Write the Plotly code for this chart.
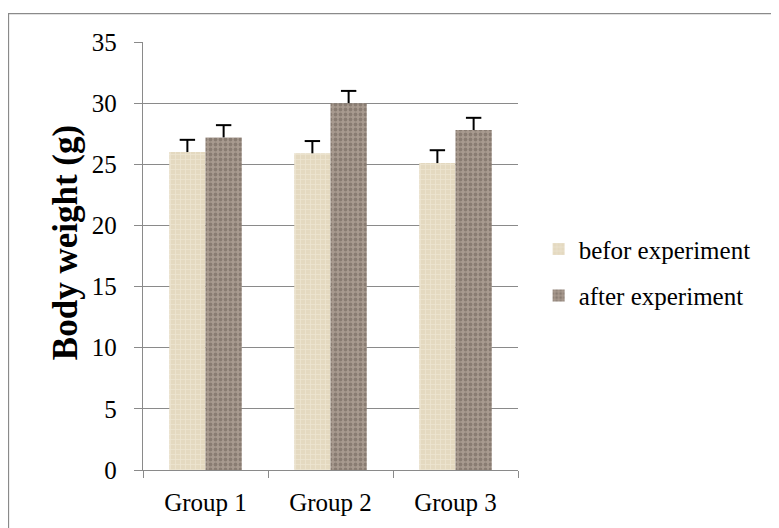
import plotly.graph_objects as go

# Данные
groups = ['Group 1', 'Group 2', 'Group 3']
before = [26.0, 25.9, 25.1]
after = [27.2, 30.0, 27.8]
before_err = [1.0, 1.0, 1.05]
after_err = [1.0, 1.0, 1.0]

serif = 'Liberation Serif, Times New Roman, serif'
grid_col = '#8a8a8a'
gap = 0.42

fig = go.Figure()

fig.add_trace(go.Bar(
    x=groups, y=before, name='befor experiment', legendgroup='a', offsetgroup='a',
    marker=dict(color='#e9e0cb', line=dict(width=0),
                pattern=dict(shape='+', fgcolor='#f7f2e6', bgcolor='#e4d9c0', size=5, solidity=0.25)),
))
fig.add_trace(go.Bar(
    x=groups, y=after, name='after experiment', legendgroup='b', offsetgroup='b',
    marker=dict(color='#9c8d83', line=dict(width=0),
                pattern=dict(shape='.', fgcolor='#6a5d55', bgcolor='#a89a8f', size=5, solidity=0.45)),
))

# планки погрешностей только вверх (Т-образные), как отдельные точки в группах
for vals, errs, grp in [(before, before_err, 'a'), (after, after_err, 'b')]:
    tops = [v + e for v, e in zip(vals, errs)]
    fig.add_trace(go.Scatter(
        x=groups, y=tops, mode='markers', showlegend=False, hoverinfo='skip',
        offsetgroup=grp,
        marker=dict(symbol='line-ew', size=11, color='black', line=dict(color='black', width=2)),
        error_y=dict(type='data', symmetric=False, array=[0] * len(errs), arrayminus=errs,
                     color='black', thickness=2, width=0),
    ))

# рамка вокруг графика (видны только левая и верхняя стороны)
fig.add_shape(type='rect', xref='paper', yref='paper',
              x0=-0.3587, x1=1.8, y0=-0.2, y1=1.0663,
              line=dict(color='#8a8a8a', width=1.3), layer='below')

fig.add_annotation(text='<b>Body weight (g)</b>', xref='paper', yref='paper',
                   x=-0.208, y=0.53, xanchor='center', yanchor='middle',
                   textangle=-90, showarrow=False,
                   font=dict(family=serif, size=35, color='black'))

fig.update_layout(
    width=771, height=520,
    margin=dict(l=135, r=261, t=34, b=56),
    paper_bgcolor='white', plot_bgcolor='white',
    barmode='group', bargap=gap, bargroupgap=0,
    scattermode='group', scattergap=gap,
    font=dict(family=serif, color='black'),
    showlegend=True,
    legend=dict(x=1.055, y=0.462, xanchor='left', yanchor='middle',
                font=dict(family=serif, size=25, color='black'),
                traceorder='grouped', tracegroupgap=11,
                itemwidth=30, bgcolor='rgba(0,0,0,0)'),
    xaxis=dict(showline=True, linecolor=grid_col, linewidth=1.3,
               ticks='outside', ticklen=7, tickcolor=grid_col, tickwidth=1.3,
               tickson='boundaries', ticklabelstandoff=10,
               tickfont=dict(family=serif, size=25, color='black')),
    yaxis=dict(range=[0, 35], dtick=5, showline=True, linecolor=grid_col, linewidth=1.3,
               showgrid=True, gridcolor=grid_col, gridwidth=1.3,
               ticks='outside', ticklen=8, tickcolor=grid_col, tickwidth=1.3,
               ticklabelstandoff=12,
               tickfont=dict(family=serif, size=25, color='black'), zeroline=False),
)

fig.write_html('out.html')
